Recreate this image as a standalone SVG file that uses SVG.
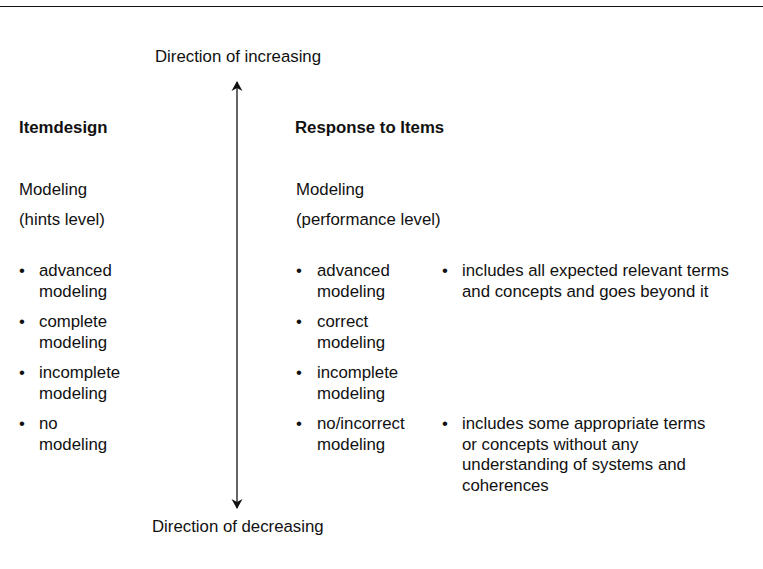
<svg xmlns="http://www.w3.org/2000/svg" width="763" height="569" viewBox="0 0 763 569">
<style>
text{font-family:"Liberation Sans",Arial,sans-serif;font-size:16.8px;fill:#111}
.b{font-weight:bold}
</style>
<defs>
<marker id="ah" viewBox="0 0 10 12" refX="9" refY="6" markerWidth="10" markerHeight="12" markerUnits="userSpaceOnUse" orient="auto-start-reverse">
<path d="M0,0.5 L10,6 L0,11.5 L3,6 Z" fill="#111"/>
</marker>
</defs>
<rect width="763" height="569" fill="#fff"/>
<line x1="0" y1="6.5" x2="763" y2="6.5" stroke="#111" stroke-width="1.2"/>
<g id="connectors">
<line x1="237" y1="82" x2="237" y2="508" stroke="#333" stroke-width="1.5" marker-start="url(#ah)" marker-end="url(#ah)"/>
</g>
<g id="top"><text x="155" y="62">Direction of increasing</text></g>
<g id="bottom"><text x="152" y="532">Direction of decreasing</text></g>
<g id="itemdesign">
<text x="19" y="133" class="b">Itemdesign</text>
<text x="19" y="195">Modeling</text>
<text x="19" y="225">(hints level)</text>
<text x="19" y="276">•</text><text x="39" y="276">advanced</text><text x="39" y="297">modeling</text>
<text x="19" y="327">•</text><text x="39" y="327">complete</text><text x="39" y="348">modeling</text>
<text x="19" y="378">•</text><text x="39" y="378">incomplete</text><text x="39" y="399">modeling</text>
<text x="19" y="429">•</text><text x="39" y="429">no</text><text x="39" y="450">modeling</text>
</g>
<g id="response">
<text x="295" y="133" class="b">Response to Items</text>
<text x="296" y="195">Modeling</text>
<text x="296" y="225">(performance level)</text>
<text x="296" y="276">•</text><text x="317" y="276">advanced</text><text x="317" y="297">modeling</text>
<text x="296" y="327">•</text><text x="317" y="327">correct</text><text x="317" y="348">modeling</text>
<text x="296" y="378">•</text><text x="317" y="378">incomplete</text><text x="317" y="399">modeling</text>
<text x="296" y="429">•</text><text x="317" y="429">no/incorrect</text><text x="317" y="450">modeling</text>
</g>
<g id="descriptions">
<text x="442" y="276">•</text><text x="462" y="276">includes all expected relevant terms</text><text x="462" y="297">and concepts and goes beyond it</text>
<text x="442" y="429">•</text><text x="462" y="429">includes some appropriate terms</text><text x="462" y="450">or concepts without any</text><text x="462" y="470">understanding of systems and</text><text x="462" y="491">coherences</text>
</g>
</svg>
